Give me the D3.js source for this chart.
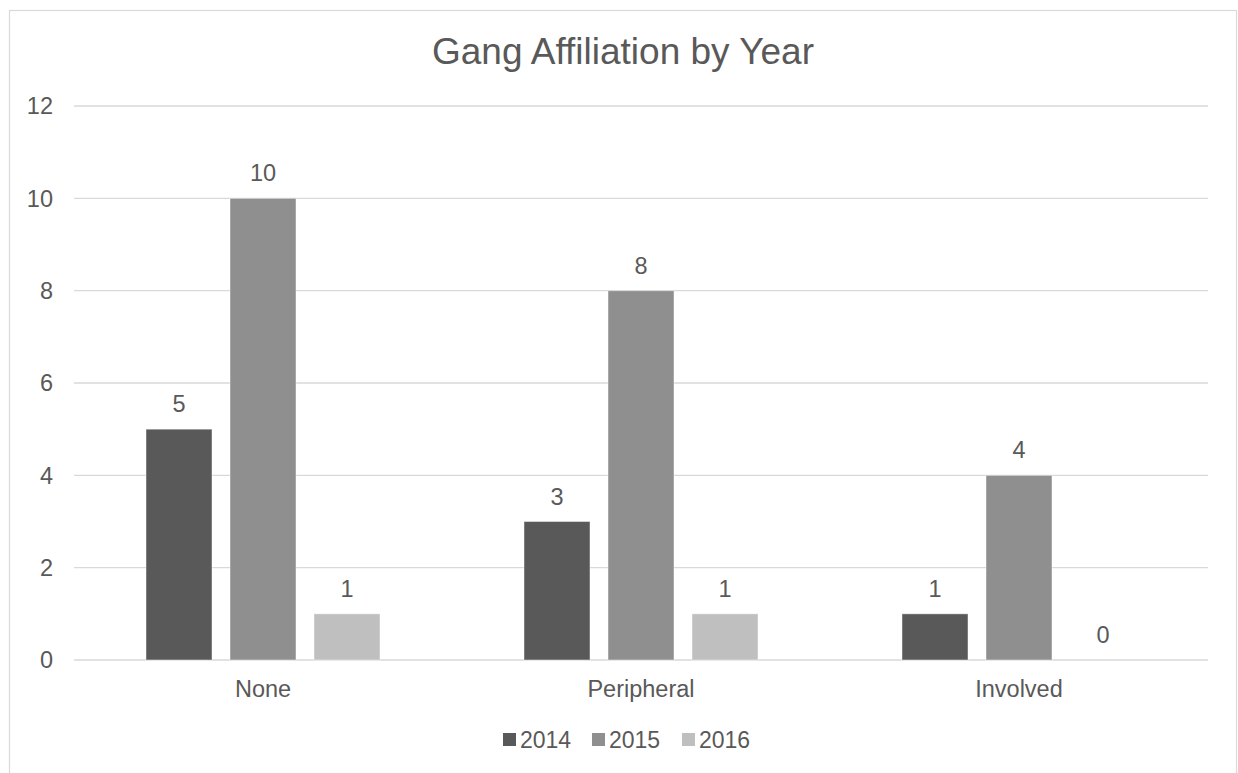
<!DOCTYPE html>
<html>
<head>
<meta charset="utf-8">
<script src="https://cdn.jsdelivr.net/npm/d3@7"></script>
<style>
  html, body { margin: 0; padding: 0; background: #ffffff; }
  svg { display: block; }
  text { font-family: "Liberation Sans", Arial, sans-serif; fill: #595959; }
</style>
</head>
<body>
<svg id="chart" width="1238" height="773"></svg>
<script>
// Chart data
const categories = ["None", "Peripheral", "Involved"];
const seriesNames = ["2014", "2015", "2016"];
const values2014 = [5, 3, 1];
const values2015 = [10, 8, 4];
const values2016 = [1, 1, 0];
const yTicks = [0, 2, 4, 6, 8, 10, 12];
const title = "Gang Affiliation by Year";

const seriesValues = [values2014, values2015, values2016];
const colors = ["#595959", "#8f8f8f", "#bfbfbf"];

const svg = d3.select("#chart");

// Outer chart frame (bottom edge runs off the canvas)
svg.append("rect")
  .attr("x", 9.5).attr("y", 10.5)
  .attr("width", 1227).attr("height", 800)
  .attr("fill", "#ffffff")
  .attr("stroke", "#d9d9d9")
  .attr("stroke-width", 1.2);

const plot = { left: 74, right: 1208, top: 106, bottom: 660 };

const x0 = d3.scaleBand()
  .domain(categories)
  .range([plot.left, plot.right])
  .paddingInner(0)
  .paddingOuter(0);

// Bars in each group: width 66, gap 18, centred in the band
const groupInner = 234;
const x1 = d3.scaleBand()
  .domain(seriesNames)
  .range([0, groupInner])
  .paddingInner(18 / 84)
  .paddingOuter(0);

const y = d3.scaleLinear().domain([0, 12]).range([plot.bottom, plot.top]);

// Gridlines
svg.append("g")
  .selectAll("line")
  .data(yTicks)
  .join("line")
  .attr("x1", plot.left).attr("x2", plot.right)
  .attr("y1", d => y(d)).attr("y2", d => y(d))
  .attr("stroke", "#d9d9d9")
  .attr("stroke-width", 1.3);

// Y axis labels
svg.append("g")
  .selectAll("text")
  .data(yTicks)
  .join("text")
  .attr("x", 53)
  .attr("y", d => y(d))
  .attr("dy", "0.36em")
  .attr("text-anchor", "end")
  .attr("font-size", 23.5)
  .text(d => d);

// Bars with value labels
const groups = svg.append("g")
  .selectAll("g")
  .data(categories)
  .join("g")
  .attr("transform", c => `translate(${x0(c) + (x0.bandwidth() - groupInner) / 2},0)`);

groups.each(function(c, ci) {
  const g = d3.select(this);
  seriesNames.forEach((s, si) => {
    const v = seriesValues[si][ci];
    g.append("rect")
      .attr("x", x1(s))
      .attr("y", y(v))
      .attr("width", x1.bandwidth())
      .attr("height", y(0) - y(v))
      .attr("fill", colors[si])
      .attr("stroke", v > 0 ? "#ffffff" : "none")
      .attr("stroke-opacity", 0.45)
      .attr("stroke-width", 1);
    g.append("text")
      .attr("x", x1(s) + x1.bandwidth() / 2)
      .attr("y", y(v) - 17)
      .attr("text-anchor", "middle")
      .attr("font-size", 23.5)
      .text(v);
  });
});

// Category labels
svg.append("g")
  .selectAll("text")
  .data(categories)
  .join("text")
  .attr("x", c => x0(c) + x0.bandwidth() / 2)
  .attr("y", 697)
  .attr("text-anchor", "middle")
  .attr("font-size", 23.5)
  .text(c => c);

// Title
svg.append("text")
  .attr("x", 623)
  .attr("y", 64)
  .attr("text-anchor", "middle")
  .attr("font-size", 37)
  .text(title);

// Legend
const legendX = [503, 592, 682];
const legend = svg.append("g");
seriesNames.forEach((s, i) => {
  legend.append("rect")
    .attr("x", legendX[i]).attr("y", 733)
    .attr("width", 13).attr("height", 13)
    .attr("fill", colors[i]);
  legend.append("text")
    .attr("x", legendX[i] + 17)
    .attr("y", 748)
    .attr("font-size", 23)
    .text(s);
});
</script>
</body>
</html>
